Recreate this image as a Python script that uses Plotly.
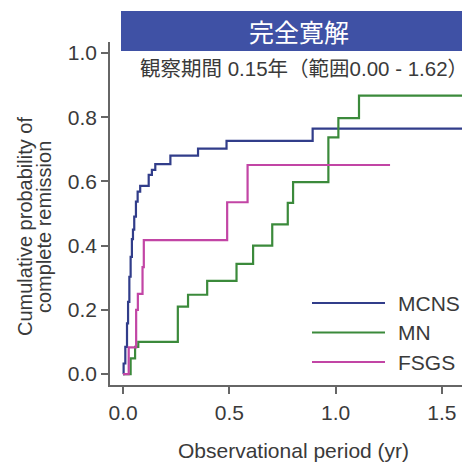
import plotly.graph_objects as go

# ---- data ----
mcns_t = [0, 0.003, 0.011, 0.019, 0.024, 0.030, 0.036, 0.042, 0.047, 0.053, 0.061,
          0.069, 0.081, 0.121, 0.136, 0.152, 0.223, 0.353, 0.487, 0.892, 1.598]
mcns_p = [0, 0.033, 0.085, 0.158, 0.225, 0.303, 0.365, 0.420, 0.450, 0.490, 0.537,
          0.568, 0.586, 0.620, 0.636, 0.654, 0.680, 0.702, 0.726, 0.764, 0.764]

mn_t = [0, 0.036, 0.057, 0.072, 0.258, 0.306, 0.396, 0.534, 0.612, 0.702, 0.775,
        0.800, 0.966, 1.013, 1.110, 1.700]
mn_p = [0, 0.049, 0.085, 0.100, 0.210, 0.247, 0.290, 0.343, 0.400, 0.466, 0.533,
        0.598, 0.737, 0.797, 0.867, 0.867]

fsgs_t = [0, 0.027, 0.062, 0.070, 0.092, 0.098, 0.490, 0.586, 1.256]
fsgs_p = [0, 0.083, 0.200, 0.250, 0.333, 0.417, 0.535, 0.651, 0.651]

series_names = ["MCNS", "MN", "FSGS"]
series_colors = ["#313d8a", "#3b8a3b", "#c245a5"]

x_ticks = [0.0, 0.5, 1.0, 1.5]
y_ticks = [0.0, 0.2, 0.4, 0.6, 0.8, 1.0]

title_text = "完全寛解"
subtitle_text = "観察期間 0.15年（範囲0.00 - 1.62）"
x_title = "Observational period (yr)"
y_title_lines = ["Cumulative probability of", "complete remission"]

LAT = "Liberation Sans, Arial, sans-serif"
CJK = "Liberation Sans, Noto Sans CJK JP, sans-serif"
TXT = "#3a3a3a"

# the page body has an 8px default margin; compensate so that the
# figure occupies the 470x463 window the same way as the reference
OFF = 8
W, H = 470 - OFF, 463 - OFF
ML, MR, MT, MB = 110 - OFF, 0, 42 - OFF, 78
PW, PH = W - ML - MR, H - MT - MB


def px_x(px):
    return (px - OFF - ML) / PW


def px_y(py):
    return 1 - (py - OFF - MT) / PH


fig = go.Figure()
for t, p, name, col in zip([mcns_t, mn_t, fsgs_t], [mcns_p, mn_p, fsgs_p],
                           series_names, series_colors):
    fig.add_trace(go.Scatter(x=t, y=p, mode="lines", name=name,
                             line=dict(color=col, width=2.2, shape="hv"),
                             showlegend=False, cliponaxis=True))

fig.update_layout(
    width=W, height=H,
    margin=dict(l=ML, r=MR, t=MT, b=MB, pad=0),
    paper_bgcolor="white", plot_bgcolor="white",
    font=dict(family=LAT, size=21, color=TXT),
    xaxis=dict(range=[-0.061, 1.632], tickvals=x_ticks,
               ticktext=[f"{v:.1f}" for v in x_ticks],
               showgrid=False, zeroline=False, showline=True,
               linecolor="#666", linewidth=1.5, ticks="outside",
               ticklen=7, tickcolor="#666", tickwidth=1.5,
               tickfont=dict(size=21, color=TXT, family=LAT),
               ticklabelstandoff=1),
    yaxis=dict(range=[-0.034, 1.034], tickvals=y_ticks,
               ticktext=[f"{v:.1f}" for v in y_ticks],
               showgrid=False, zeroline=False, showline=True,
               linecolor="#666", linewidth=1.5, ticks="outside",
               ticklen=7, tickcolor="#666", tickwidth=1.5,
               tickfont=dict(size=21, color=TXT, family=LAT),
               ticklabelstandoff=0),
)

# title band
fig.add_shape(type="rect", xref="paper", yref="paper",
              x0=px_x(121), x1=1.0, y0=px_y(51), y1=px_y(11),
              fillcolor="#3f51a5", line=dict(width=0), layer="above")

fig.add_annotation(x=px_x(299), y=px_y(31), xref="paper", yref="paper",
                   text=title_text, showarrow=False,
                   font=dict(family="Noto Sans CJK JP", size=25, color="white"),
                   xanchor="center", yanchor="middle")
fig.add_annotation(x=px_x(304), y=px_y(68), xref="paper", yref="paper",
                   text=subtitle_text, showarrow=False,
                   font=dict(family=CJK, size=20.5, color=TXT),
                   xanchor="center", yanchor="middle")

# x-axis title
fig.add_annotation(x=px_x(293), y=px_y(450), xref="paper", yref="paper",
                   text=x_title, showarrow=False,
                   font=dict(family=LAT, size=21, color=TXT),
                   xanchor="center", yanchor="middle")

# y-axis title (two lines, rotated)
for line, cx in zip(y_title_lines, [25, 44]):
    fig.add_annotation(x=px_x(cx), y=px_y(227), xref="paper", yref="paper",
                       text=line, showarrow=False, textangle=-90,
                       font=dict(family=LAT, size=20, color=TXT),
                       xanchor="center", yanchor="middle")

# legend
for i, (name, col) in enumerate(zip(series_names, series_colors)):
    yy = px_y(303 + i * 29.5)
    fig.add_shape(type="line", xref="paper", yref="paper",
                  x0=px_x(312), x1=px_x(385), y0=yy, y1=yy,
                  line=dict(color=col, width=2.2))
    fig.add_annotation(x=px_x(396), y=yy, xref="paper", yref="paper",
                       text=name, showarrow=False,
                       font=dict(family=LAT, size=21, color=TXT),
                       xanchor="left", yanchor="middle")

fig.write_html("out.html")
